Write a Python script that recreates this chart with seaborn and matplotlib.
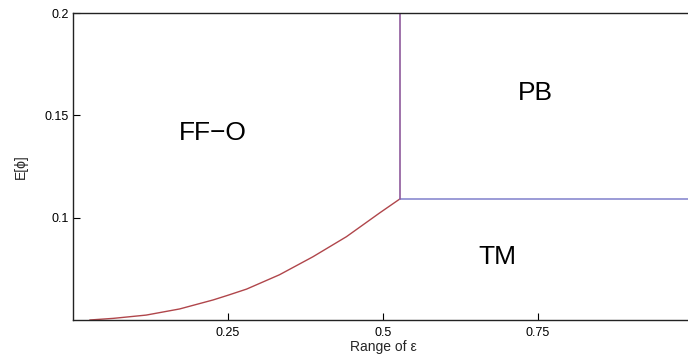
import matplotlib
matplotlib.use("Agg")
import matplotlib.pyplot as plt
import seaborn as sns
import pandas as pd

# Data
curve_x = [0.027, 0.065, 0.118, 0.172, 0.226, 0.250, 0.280, 0.333, 0.387, 0.441, 0.495, 0.527]
curve_y = [0.0500, 0.0508, 0.0524, 0.0554, 0.0598, 0.0621, 0.0651, 0.0721, 0.0809, 0.0907, 0.1024, 0.1091]
vert_x = [0.527, 0.527]
vert_y = [0.1091, 0.2]
horiz_x = [0.527, 1.0]
horiz_y = [0.1091, 0.1091]
region_labels = ["FF\u2212O", "PB", "TM"]
region_x = [0.225, 0.746, 0.685]
region_y = [0.1414, 0.161, 0.0808]
xticks = [0.25, 0.5, 0.75]
xtick_labels = ["0.25", "0.5", "0.75"]
yticks = [0.1, 0.15, 0.2]
ytick_labels = ["0.1", "0.15", "0.2"]

sns.set_style("white")
plt.rcParams['font.family'] = ['Liberation Sans', 'DejaVu Sans']

fig = plt.figure(figsize=(6.88, 3.6), dpi=100)
ax = fig.add_axes([73/688, 40/360, 620/688, 307/360])

sns.lineplot(data=pd.DataFrame({"x": curve_x, "y": curve_y}), x="x", y="y",
             ax=ax, color="#b0464b", lw=1.0, sort=False, estimator=None)
sns.lineplot(data=pd.DataFrame({"x": horiz_x, "y": horiz_y}), x="x", y="y",
             ax=ax, color="#8a8ad0", lw=1.2, sort=False, estimator=None)
sns.lineplot(data=pd.DataFrame({"x": vert_x, "y": vert_y}), x="x", y="y",
             ax=ax, color="#8f5a9c", lw=1.2, sort=False, estimator=None)

for lab, tx, ty in zip(region_labels, region_x, region_y):
    ax.text(tx, ty, lab, fontsize=19, ha="center", va="center", color="black")

ax.set_xlim(0, 1.0)
ax.set_ylim(0.05, 0.2)
ax.set_xticks(xticks)
ax.set_xticklabels(xtick_labels)
ax.set_yticks(yticks)
ax.set_yticklabels(ytick_labels)
ax.tick_params(direction="in", length=5, width=0.8, labelsize=9, colors="black",
               bottom=True, left=True)
ax.tick_params(axis="y", pad=3)
ax.tick_params(axis="x", pad=5)
ax.set_xlabel("Range of \u03b5", fontsize=10, labelpad=1)
ax.set_ylabel("E[\u03d5]", fontsize=10, labelpad=12)
for s in ax.spines.values():
    s.set_color("#222222")
    s.set_linewidth(1.0)
    s.set_visible(True)

fig.savefig("out.png", dpi=100)
